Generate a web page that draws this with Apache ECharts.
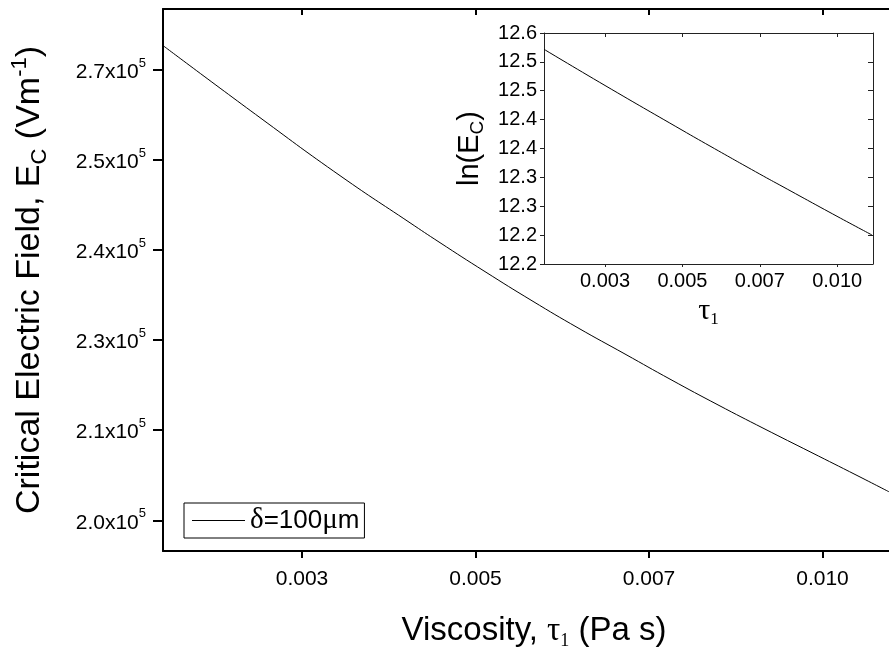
<!DOCTYPE html>
<html><head><meta charset="utf-8">
<script src="https://cdn.jsdelivr.net/npm/echarts@6/dist/echarts.min.js"></script>
<style>html,body{margin:0;padding:0;background:#fff}#c{width:889px;height:655px}</style>
</head><body><div id="c"></div>
<script>
// ---- main curve: viscosity tau1 (Pa s) vs critical electric field Ec (V/m)
const tau = [0.0021974, 0.0027481, 0.0033124, 0.0038835, 0.0041521, 0.0046166, 0.0051449, 0.0057206, 0.0063753, 0.0070886, 0.0078998, 0.0087836, 0.0097889, 0.0108840, 0.0117174];
const ec  = [274280, 261440, 251430, 243780, 240680, 235990, 231460, 227320, 223400, 219620, 215970, 212590, 209270, 206070, 203840];
const seriesName = 'δ=100μm';

// ---- inset: ln(Ec) vs tau1
const insetTau  = [0.002209, 0.003028, 0.004507, 0.005209, 0.006738, 0.007596, 0.010042, 0.012032];
const insetLnEc = [12.5718, 12.5091, 12.4319, 12.4042, 12.3557, 12.3337, 12.2826, 12.2502];

// ---- ticks
const xTickValues = [0.0030276, 0.0045166, 0.0067379, 0.0100518];
const xTickLabels = ['0.003', '0.005', '0.007', '0.010'];
const yTickValues = [200000, 212400, 225500, 239400, 254200, 269900];
const yTickLabels = ['2.0', '2.1', '2.3', '2.4', '2.5', '2.7'];
const insetYTickValues = [12.2, 12.25, 12.3, 12.35, 12.4, 12.45, 12.5, 12.55, 12.6];
const insetYTickLabels = ['12.2', '12.2', '12.3', '12.3', '12.4', '12.4', '12.5', '12.5', '12.6'];

// ---- axis ranges
const xMin = 0.0021974, xMax = 0.011717;
const yMin = 195970, yMax = 281030;
const insetXMin = 0.002209, insetXMax = 0.012094;
const insetYMin = 12.2, insetYMax = 12.6;

const SANS = "'Liberation Sans', Arial, Helvetica, sans-serif";
const SERIF = "'Liberation Serif', 'Times New Roman', serif";

function lookup(values, labels) {
  return function (v) {
    const i = values.findIndex(t => Math.abs(t - v) <= Math.abs(t) * 1e-4);
    return i >= 0 ? labels[i] : '';
  };
}
const fx = lookup(xTickValues, xTickLabels);
const fy = lookup(yTickValues, yTickLabels);
const fiy = lookup(insetYTickValues, insetYTickLabels);

const chart = echarts.init(document.getElementById('c'), null, {renderer: 'canvas'});
const thick = {color: '#000', width: 2};
const thin = {color: '#222', width: 1};

chart.setOption({
  animation: false,
  backgroundColor: '#fff',
  grid: [
    {left: 163, top: 9, right: 0, bottom: 97},
    {left: 544, top: 33, right: 16, bottom: 391}
  ],
  legend: {
    data: [{name: seriesName, icon: 'rect'}],
    left: 184, top: 503,
    orient: 'horizontal',
    itemWidth: 53, itemHeight: 1, itemGap: 5,
    padding: [3, 5, 3, 8],
    borderColor: '#000', borderWidth: 1, borderRadius: 0,
    backgroundColor: '#fff',
    itemStyle: {color: '#000'},
    formatter: name => name.split('').map(ch => /[δμ]/.test(ch) ? '{g|' + ch + '}' : '{t|' + ch + '}').join(''),
    textStyle: {
      color: '#000',
      rich: {
        t: {fontFamily: SANS, fontSize: 26, lineHeight: 26, color: '#000'},
        g: {fontFamily: SERIF, fontSize: 29, lineHeight: 26, color: '#000'}
      }
    }
  },
  xAxis: [
    {
      type: 'log', gridIndex: 0, position: 'bottom', min: xMin, max: xMax,
      axisLine: {show: true, onZero: false, lineStyle: thick},
      axisTick: {show: true, inside: false, length: 7, lineStyle: thick, customValues: xTickValues},
      axisLabel: {show: true, customValues: xTickValues, formatter: fx, margin: 18, color: '#000', fontFamily: SANS, fontSize: 21},
      splitLine: {show: false}, minorTick: {show: false},
      name: '{t|Viscosity, }{g|τ}{gs|1}{t| (Pa s)}',
      nameLocation: 'middle', nameGap: 61,
      nameTextStyle: {
        padding: [0, 0, 0, 16],
        rich: {
          t: {fontFamily: SANS, fontSize: 33, color: '#000', lineHeight: 38},
          g: {fontFamily: SERIF, fontSize: 33, color: '#000', lineHeight: 38},
          gs: {fontFamily: SERIF, fontSize: 18, color: '#000', verticalAlign: 'bottom', lineHeight: 18}
        }
      }
    },
    {
      type: 'log', gridIndex: 0, position: 'top', min: xMin, max: xMax,
      axisLine: {show: true, onZero: false, lineStyle: thick},
      axisTick: {show: true, inside: true, length: 6, lineStyle: thick, customValues: xTickValues},
      axisLabel: {show: false, customValues: xTickValues},
      splitLine: {show: false}
    },
    {
      type: 'log', gridIndex: 1, position: 'bottom', min: insetXMin, max: insetXMax,
      axisLine: {show: true, onZero: false, lineStyle: thin},
      axisTick: {show: true, inside: false, length: 3, lineStyle: thin, customValues: xTickValues},
      axisLabel: {show: true, customValues: xTickValues, formatter: fx, margin: 7, color: '#000', fontFamily: SANS, fontSize: 20},
      splitLine: {show: false},
      name: '{g|τ}{gs|1}',
      nameLocation: 'middle', nameGap: 30,
      nameTextStyle: {
        rich: {
          g: {fontFamily: SERIF, fontSize: 30, color: '#000', lineHeight: 34},
          gs: {fontFamily: SERIF, fontSize: 17, color: '#000', verticalAlign: 'bottom', lineHeight: 17}
        }
      }
    },
    {
      type: 'log', gridIndex: 1, position: 'top', min: insetXMin, max: insetXMax,
      axisLine: {show: true, onZero: false, lineStyle: thin},
      axisTick: {show: true, inside: true, length: 4, lineStyle: thin, customValues: xTickValues},
      axisLabel: {show: false, customValues: xTickValues},
      splitLine: {show: false}
    }
  ],
  yAxis: [
    {
      type: 'log', gridIndex: 0, position: 'left', min: yMin, max: yMax,
      axisLine: {show: true, onZero: false, lineStyle: thick},
      axisTick: {show: true, inside: false, length: 10, lineStyle: thick, customValues: yTickValues},
      axisLabel: {
        show: true, customValues: yTickValues, margin: 17,
        formatter: v => '{n|' + fy(v) + 'x10}{s|5}',
        rich: {
          n: {fontFamily: SANS, fontSize: 21, color: '#000', lineHeight: 26, verticalAlign: 'bottom'},
          s: {fontFamily: SANS, fontSize: 13, color: '#000', lineHeight: 13, verticalAlign: 'top'}
        }
      },
      splitLine: {show: false}, minorTick: {show: false},
      name: '{t|Critical Electric Field, E}{sub|C}{t| (Vm}{sup|-1}{t|)}',
      nameLocation: 'middle', nameRotate: 90, nameGap: 112,
      nameTextStyle: {
        rich: {
          t: {fontFamily: SANS, fontSize: 34, color: '#000', lineHeight: 42},
          sub: {fontFamily: SANS, fontSize: 22, color: '#000', lineHeight: 22, verticalAlign: 'bottom'},
          sup: {fontFamily: SANS, fontSize: 22, color: '#000', lineHeight: 22, verticalAlign: 'top'}
        }
      }
    },
    {
      type: 'value', gridIndex: 1, position: 'left', min: insetYMin, max: insetYMax,
      axisLine: {show: true, onZero: false, lineStyle: thin},
      axisTick: {show: true, inside: false, length: 4, lineStyle: thin, customValues: insetYTickValues},
      axisLabel: {show: true, customValues: insetYTickValues, formatter: fiy, margin: 7, color: '#000', fontFamily: SANS, fontSize: 20},
      splitLine: {show: false},
      name: '{t|ln(E}{sub|C}{t|)}',
      nameLocation: 'middle', nameRotate: 90, nameGap: 57,
      nameTextStyle: {
        rich: {
          t: {fontFamily: SANS, fontSize: 29, color: '#000', lineHeight: 34},
          sub: {fontFamily: SANS, fontSize: 19, color: '#000', lineHeight: 19, verticalAlign: 'bottom'}
        }
      }
    },
    {
      type: 'value', gridIndex: 1, position: 'right', min: insetYMin, max: insetYMax,
      axisLine: {show: true, onZero: false, lineStyle: thin},
      axisTick: {show: true, inside: true, length: 5, lineStyle: thin, customValues: insetYTickValues},
      axisLabel: {show: false, customValues: insetYTickValues},
      splitLine: {show: false}
    }
  ],
  series: [
    {
      name: seriesName, type: 'line', xAxisIndex: 0, yAxisIndex: 0,
      data: tau.map((t, i) => [t, ec[i]]),
      symbol: 'none', showSymbol: false, smooth: true,
      lineStyle: {color: '#000', width: 1}, itemStyle: {color: '#000'}
    },
    {
      name: 'inset', type: 'line', xAxisIndex: 2, yAxisIndex: 1,
      data: insetTau.map((t, i) => [t, insetLnEc[i]]),
      symbol: 'none', showSymbol: false, smooth: true,
      lineStyle: {color: '#000', width: 1}, itemStyle: {color: '#000'}
    }
  ]
});
</script>
</body></html>
